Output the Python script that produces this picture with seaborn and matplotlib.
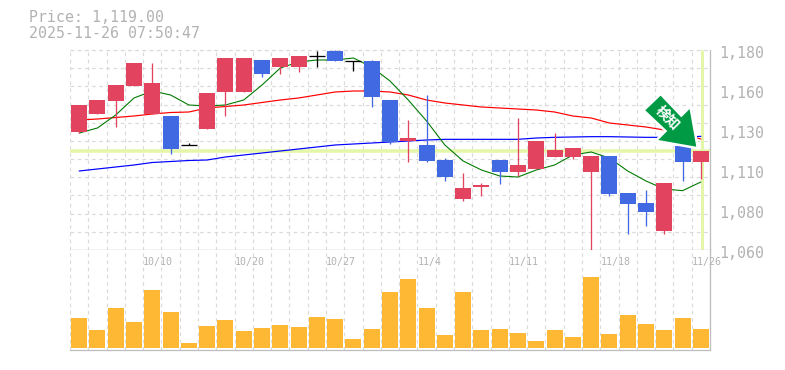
import matplotlib
matplotlib.use('Agg')
import matplotlib.pyplot as plt
import matplotlib.transforms as mtransforms
from matplotlib.patches import Polygon
import numpy as np
import pandas as pd
import seaborn as sns

sns.set_style('white')
plt.rcParams['font.family'] = ['DejaVu Sans Mono']

# prices
opens = [1130.8, 1141.6, 1149.4, 1158.4, 1141.6, 1140.4, 1122.8, 1132.6, 1154.8, 1154.8, 1174.0, 1169.8,
         1169.8, 1176.2, 1179.4, 1173.2, 1173.4, 1150.0, 1125.4, 1123.0, 1114.0, 1090.6, 1097.8, 1114.0,
         1106.8, 1108.6, 1115.8, 1115.8, 1106.8, 1116.4, 1094.2, 1088.2, 1071.4, 1122.4, 1112.8]
closes = [1147.0, 1150.0, 1159.0, 1172.2, 1160.2, 1120.6, 1122.8, 1154.2, 1175.2, 1175.2, 1165.6, 1175.2,
          1176.4, 1176.2, 1173.4, 1173.2, 1151.8, 1124.8, 1127.2, 1113.4, 1103.8, 1097.2, 1099.0, 1106.8,
          1111.0, 1125.4, 1120.0, 1121.2, 1116.4, 1093.6, 1087.6, 1082.8, 1100.2, 1112.8, 1119.4]
highs = [1147.0, 1150.0, 1159.0, 1172.2, 1172.2, 1140.4, 1124.2, 1154.2, 1175.2, 1175.2, 1174.0, 1175.2,
         1176.4, 1179.4, 1180.0, 1173.2, 1174.0, 1150.0, 1138.0, 1153.0, 1115.2, 1106.2, 1100.2, 1114.0,
         1139.2, 1125.4, 1130.2, 1121.2, 1116.4, 1116.4, 1094.2, 1096.0, 1100.2, 1122.4, 1119.4]
lows = [1130.0, 1141.6, 1134.0, 1158.4, 1141.6, 1117.8, 1122.8, 1132.6, 1140.6, 1154.8, 1164.0, 1165.6,
        1167.0, 1170.0, 1173.4, 1167.6, 1145.8, 1123.6, 1112.8, 1112.8, 1101.4, 1089.4, 1092.4, 1099.6,
        1104.4, 1108.6, 1115.8, 1114.6, 1060.0, 1092.4, 1069.6, 1074.4, 1069.6, 1101.4, 1102.6]
ma_green = [1130.2, 1133.2, 1141.0, 1151.2, 1155.4, 1153.0, 1147.0, 1146.4, 1147.0, 1150.0, 1159.0, 1169.2,
            1172.8, 1174.0, 1174.0, 1175.2, 1169.8, 1161.4, 1150.0, 1137.4, 1123.0, 1113.4, 1108.0, 1104.4,
            1103.8, 1108.0, 1111.0, 1117.0, 1118.8, 1115.2, 1107.4, 1101.4, 1096.6, 1095.6, 1100.8]
ma_red = [1138.0, 1138.6, 1139.5, 1140.4, 1141.6, 1142.5, 1142.8, 1145.2, 1146.1, 1147.0, 1148.5, 1150.0,
          1151.2, 1153.0, 1154.8, 1155.4, 1155.4, 1154.8, 1153.0, 1150.0, 1148.2, 1147.0, 1145.8, 1145.2,
          1144.6, 1144.0, 1142.8, 1140.4, 1139.2, 1136.2, 1135.0, 1133.8, 1132.0, 1129.6, 1126.6]
ma_blue = [1107.4, 1108.6, 1109.8, 1111.0, 1112.5, 1113.1, 1113.7, 1114.0, 1115.8, 1117.0, 1118.2, 1119.4,
           1120.6, 1121.8, 1123.0, 1123.6, 1124.2, 1124.8, 1125.4, 1126.0, 1126.4, 1126.4, 1126.4, 1126.4,
           1126.4, 1127.2, 1127.6, 1127.8, 1128.0, 1128.0, 1127.8, 1127.6, 1127.6, 1127.6, 1128.2]
volumes = [30.3, 18.3, 40.3, 26.3, 58.3, 36.3, 5.3, 22.3, 28.3, 17.3, 20.3, 23.3, 21.3, 31.3, 29.3, 9.3, 19.3, 56.3,
           69.3, 40.3, 13.3, 56.3, 18.3, 19.3, 15.3, 7.3, 18.3, 11.3, 71.3, 14.3, 33.3, 24.3, 18.3, 30.3, 19.3]
date_idx = [4, 9, 14, 19, 24, 29, 34]
date_labels = ['10/10', '10/20', '10/27', '11/4', '11/11', '11/18', '11/26']
price_ticks = [1060, 1084, 1108, 1132, 1156, 1180]
price_labels = ['1,060', '1,080', '1,110', '1,130', '1,160', '1,180']
last_price = 1119.0

RED = '#E2435F'
BLUE = '#4169E1'
GREY = '#BEBEBE'
TEXT = '#B2B2B2'
GRID = '#DADADA'
BAND = '#E4F7A9'
PX = 0.72

W, H = 785, 370
fig = plt.figure(figsize=(W / 100, H / 100), dpi=100)
ax = fig.add_axes([70 / W, 1 - 250 / H, 640 / W, 200 / H])
vax = fig.add_axes([70 / W, 1 - 350 / H, 640 / W, 100 / H])

idx = np.arange(len(opens))
df = pd.DataFrame({'i': idx, 'green': ma_green, 'red': ma_red, 'blue': ma_blue})

for a in (ax, vax):
    a.set_xlim(-0.5, len(opens) - 0.5)
    a.set_xticks(idx - 0.5)
    a.tick_params(length=0, labelbottom=False, labelleft=False)
    a.grid(True, axis='x', color=GRID, lw=PX * 1.2, ls=(0, (3, 3)))
    a.set_axisbelow(True)
    for s in a.spines.values():
        s.set_visible(False)
    a.spines['right'].set_visible(True)
    a.spines['bottom'].set_visible(True)
    a.spines['right'].set_color(GREY)
    a.spines['bottom'].set_color(GREY)
    a.spines['right'].set_linewidth(PX * 1.3)
    a.spines['bottom'].set_linewidth(PX * 1.3)

ax.set_ylim(1060, 1180)
ax.set_yticks(np.linspace(1060, 1180, 12))
ax.grid(True, axis='y', color=GRID, lw=PX * 1.2, ls=(0, (3, 3)))
ax.axhline(1180, color=GRID, lw=PX * 1.2, ls=(0, (3, 3)), zorder=0.5, clip_on=False)

ax.axhline(last_price + 0.6, color=BAND, lw=PX * 3.5, zorder=1)
ax.axvline(len(opens) - 1 + 0.05, color=BAND, lw=PX * 3, zorder=1, ymax=0.995)

for col, c, lw in [('blue', '#0000FF', 1.2), ('red', '#FF0000', 1.2), ('green', '#007A00', 1.1)]:
    sns.lineplot(data=df, x='i', y=col, ax=ax, color=c, lw=PX * lw, zorder=2, legend=False)
ax.set_xlabel('')
ax.set_ylabel('')

for i in idx:
    o, c = opens[i], closes[i]
    col = 'black' if o == c else (RED if c > o else BLUE)
    ax.vlines(i, lows[i], highs[i], color=col, lw=PX * 1.3, zorder=3, clip_on=False)
    if o == c:
        ax.hlines(o, i - 0.44, i + 0.44, color='black', lw=PX * 1.3, zorder=3)
    else:
        ax.bar(i, abs(c - o), bottom=min(o, c), width=0.875, color=col, zorder=3, lw=0)

vol_df = pd.DataFrame({'i': idx, 'v': volumes})
sns.barplot(data=vol_df, x='i', y='v', ax=vax, native_scale=True, color='#FFB833', saturation=1,
            width=0.875, zorder=3, lw=0)
vax.set_xlim(-0.5, len(opens) - 0.5)
vax.set_ylim(-1.7, 98.3)
vax.set_xlabel('')
vax.set_ylabel('')

# labels
for t, l in zip(price_ticks, price_labels):
    ax.annotate(l, (1, t), xycoords=('axes fraction', 'data'), xytext=(9, -3), textcoords='offset pixels',
                ha='left', va='center', fontsize=10.7, color=TEXT)
for i, l in zip(date_idx, date_labels):
    vax.annotate(l, (i - 0.5, 1), xycoords=('data', 'axes fraction'), xytext=(0, -12), textcoords='offset pixels',
                 ha='left', va='center', fontsize=7.2, color=TEXT, zorder=6)
fig.text(29 / W, 1 - 18 / H, 'Price: 1,119.00', fontsize=10.7, color=TEXT, va='center')
fig.text(29 / W, 1 - 33 / H, '2025-11-26 07:50:47', fontsize=10.7, color=TEXT, va='center')

# arrow badge, offsets in pixels from the tip, which sits just above candle 33
tip = ax.transData.transform((33.75, 1122.4))
arrow_off = np.array([(0, 0), (-6.7, -37.7), (-15, -29.4), (-35.7, -51), (-51, -36.4), (-29, -15.7), (-38, -6.7)])
tr = mtransforms.Affine2D().translate(tip[0], tip[1] - 0.7)
ax.add_patch(Polygon(arrow_off * [1, -1], closed=True, transform=tr, facecolor='#009A44', edgecolor='white',
                     lw=PX * 5, zorder=5, joinstyle='miter', clip_on=False))
ax.add_patch(Polygon(arrow_off * [1, -1], closed=True, transform=tr, facecolor='#009A44', edgecolor='none',
                     zorder=6, clip_on=False))
ax.annotate('検知', (33.75, 1122.4), xytext=(-29, 28), textcoords='offset pixels', rotation=-45,
            rotation_mode='anchor', ha='center', va='center', fontsize=10, color='white', zorder=7,
            family=['Noto Sans CJK JP', 'DejaVu Sans'], fontweight='bold')

fig.savefig('out.png', dpi=100)
